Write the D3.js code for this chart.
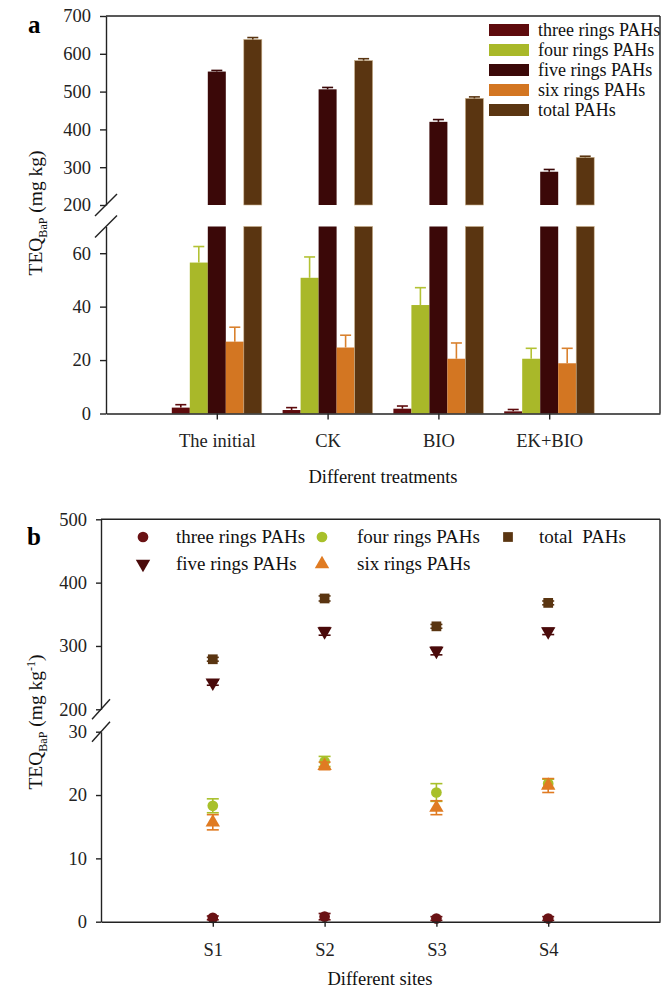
<!DOCTYPE html>
<html><head><meta charset="utf-8">
<script src="https://cdn.jsdelivr.net/npm/d3@7"></script>
<style>html,body{margin:0;padding:0;background:#fff;}svg{display:block;font-family:"Liberation Serif","Times New Roman",serif;}</style>
</head><body>
<script>
// ---------- Panel a data ----------
const catsA = ["The initial", "CK", "BIO", "EK+BIO"];
const seriesA = ["three rings PAHs", "four rings PAHs", "five rings PAHs", "six rings PAHs", "total PAHs"];
const threeA = [2.2, 1.3, 1.8, 0.8];
const threeAErr = [1.1, 0.9, 1.0, 0.7];
const fourA = [56.5, 50.8, 40.6, 20.5];
const fourAErr = [6.0, 7.8, 6.5, 3.9];
const fiveA = [553, 506, 420, 288];
const fiveAErr = [3, 5, 6, 6];
const sixA = [26.9, 24.7, 20.5, 18.8];
const sixAErr = [5.4, 4.6, 5.9, 5.6];
const totalA = [638, 582, 482, 326];
const totalAErr = [5, 5, 4, 3];
const ticksALow = [0, 20, 40, 60];
const ticksAUp = [200, 300, 400, 500, 600, 700];

// ---------- Panel b data ----------
const sitesB = ["S1", "S2", "S3", "S4"];
const seriesB = ["three rings PAHs", "four rings PAHs", "five rings PAHs", "six rings PAHs", "total  PAHs"];
const threeB = [0.6, 0.8, 0.5, 0.5];
const threeBErr = [0.3, 0.5, 0.3, 0.3];
const fourB = [18.3, 25.3, 20.4, 21.8];
const fourBErr = [1.1, 0.8, 1.4, 0.7];
const fiveB = [242, 323, 292, 323];
const fiveBErr = [4, 6, 6, 5];
const sixB = [15.7, 24.6, 18.0, 21.5];
const sixBErr = [1.2, 0.6, 1.1, 1.1];
const totalB = [279, 375, 331, 368];
const totalBErr = [3, 4, 3, 3];
const ticksBLow = [0, 10, 20, 30];
const ticksBUp = [200, 300, 400, 500];

const colA = ["#5e0b0d", "#a9b829", "#3b0808", "#d37622", "#5a3511"];
const errColA = ["#5e0b0d", "#b3c234", "#3b0808", "#d9812e", "#5a3511"];
const colB = ["#6a1214", "#a8c02a", "#4a0a0a", "#e07b22", "#5a3511"];

const svg = d3.select("body").append("svg").attr("width", 661).attr("height", 991);
const axisCol = "#222";

function styleAxis(g) {
  g.selectAll("path.domain").attr("stroke", axisCol).attr("stroke-width", 1.4);
  g.selectAll(".tick line").attr("stroke", axisCol).attr("stroke-width", 1.4);
  g.selectAll(".tick text").attr("fill", "#222").style("font-size", "18.5px").style("font-family", "'Liberation Serif','Times New Roman',serif");
}

// ================= Panel a =================
const xA = d3.scalePoint().domain(["", ...catsA, " "]).range([106, 660]);
const yLowA = d3.scaleLinear().domain([0, 70]).range([413.5, 226.5]);
const yUpA = d3.scaleLinear().domain([200, 700]).range([205, 16]);
const innerA = d3.scaleBand().domain(seriesA).range([-45, 45]);
const valsA = [threeA, fourA, fiveA, sixA, totalA];
const errsA = [threeAErr, fourAErr, fiveAErr, sixAErr, totalAErr];

const gA = svg.append("g");
gA.append("line").attr("x1", 106).attr("x2", 660).attr("y1", yUpA(700)).attr("y2", yUpA(700)).attr("stroke", axisCol).attr("stroke-width", 1.4);
gA.append("line").attr("x1", 660).attr("x2", 660).attr("y1", yUpA(700)).attr("y2", yLowA(0)).attr("stroke", axisCol).attr("stroke-width", 1.4);

const barsA = gA.append("g");
seriesA.forEach((s, si) => {
  catsA.forEach((c, ci) => {
    const v = valsA[si][ci], e = errsA[si][ci];
    const x0 = xA(c) + innerA(s), w = innerA.bandwidth();
    const cx = x0 + w / 2;
    const stroke = si === 4 ? "#c9b08a" : "none";
    const y = v <= 70 ? yLowA : yUpA;
    if (v <= 70) {
      barsA.append("rect").attr("x", x0).attr("y", yLowA(v)).attr("width", w).attr("height", yLowA(0) - yLowA(v)).attr("fill", colA[si]).attr("stroke", stroke).attr("stroke-width", 0.6);
    } else {
      barsA.append("rect").attr("x", x0).attr("y", yLowA(70)).attr("width", w).attr("height", yLowA(0) - yLowA(70)).attr("fill", colA[si]).attr("stroke", stroke).attr("stroke-width", 0.6);
      barsA.append("rect").attr("x", x0).attr("y", yUpA(v)).attr("width", w).attr("height", yUpA(200) - yUpA(v)).attr("fill", colA[si]).attr("stroke", stroke).attr("stroke-width", 0.6);
    }
    barsA.append("line").attr("x1", cx).attr("x2", cx).attr("y1", y(v)).attr("y2", y(v + e)).attr("stroke", errColA[si]).attr("stroke-width", 1.6);
    barsA.append("line").attr("x1", cx - 5.5).attr("x2", cx + 5.5).attr("y1", y(v + e)).attr("y2", y(v + e)).attr("stroke", errColA[si]).attr("stroke-width", 1.6);
  });
});

gA.append("g").attr("transform", "translate(106,0)")
  .call(d3.axisLeft(yLowA).tickValues(ticksALow).tickSize(6).tickSizeOuter(0).tickPadding(9)).call(styleAxis);
gA.append("g").attr("transform", "translate(106,0)")
  .call(d3.axisLeft(yUpA).tickValues(ticksAUp).tickSize(6).tickSizeOuter(0).tickPadding(9)).call(styleAxis);
gA.append("g").attr("transform", `translate(0,${yLowA(0)})`)
  .call(d3.axisBottom(xA).tickValues(catsA).tickSize(6).tickSizeOuter(0).tickPadding(14)).call(styleAxis);

[yUpA(200), yLowA(70)].forEach(y => {
  gA.append("line").attr("x1", 95).attr("x2", 117).attr("y1", y + 11).attr("y2", y - 11).attr("stroke", axisCol).attr("stroke-width", 1.4);
});

// legend a
seriesA.forEach((s, i) => {
  const cy = 30 + i * 20;
  gA.append("rect").attr("x", 489).attr("y", cy - 6).attr("width", 40).attr("height", 12).attr("fill", colA[i]);
  gA.append("text").attr("x", 538).attr("y", cy).attr("dy", "0.33em").style("font-size", "18px").attr("fill", "#111").text(s);
});

gA.append("text").attr("x", 383).attr("y", 483).attr("text-anchor", "middle").style("font-size", "18.5px").attr("fill", "#111").text("Different treatments");
const tA = gA.append("text").attr("transform", "translate(42,213) rotate(-90)").attr("text-anchor", "middle").style("font-size", "19.5px").attr("fill", "#111");
tA.append("tspan").text("TEQ");
tA.append("tspan").attr("dy", 5).style("font-size", "12px").text("BaP");
tA.append("tspan").attr("dy", -5).text(" (mg kg)");
gA.append("text").attr("x", 28).attr("y", 33).style("font-size", "25px").style("font-weight", "bold").text("a");

// ================= Panel b =================
const xB = d3.scalePoint().domain(["", ...sitesB, " "]).range([101, 660]);
const yLowB = d3.scaleLinear().domain([0, 30]).range([921.7, 731.7]);
const yUpB = d3.scaleLinear().domain([200, 500]).range([709.3, 519.3]);
const valsB = [threeB, fourB, fiveB, sixB, totalB];
const errsB = [threeBErr, fourBErr, fiveBErr, sixBErr, totalBErr];
const symB = [
  {type: d3.symbolCircle, size: 90, rot: 0},
  {type: d3.symbolCircle, size: 90, rot: 0},
  {type: d3.symbolTriangle, size: 90, rot: 180},
  {type: d3.symbolTriangle, size: 90, rot: 0},
  {type: d3.symbolSquare, size: 95, rot: 0}
];

const gB = svg.append("g");
gB.append("line").attr("x1", 101).attr("x2", 660).attr("y1", yUpB(500)).attr("y2", yUpB(500)).attr("stroke", axisCol).attr("stroke-width", 1.4);
gB.append("line").attr("x1", 660).attr("x2", 660).attr("y1", yUpB(500)).attr("y2", yLowB(0)).attr("stroke", axisCol).attr("stroke-width", 1.4);

const ptsB = gB.append("g");
seriesB.forEach((s, si) => {
  sitesB.forEach((c, ci) => {
    const v = valsB[si][ci], e = errsB[si][ci];
    const y = v <= 30 ? yLowB : yUpB;
    const cx = xB(c);
    const lo = y(v - e), hi = y(v + e);
    ptsB.append("line").attr("x1", cx).attr("x2", cx).attr("y1", lo).attr("y2", hi).attr("stroke", colB[si]).attr("stroke-width", 1.6);
    [lo, hi].forEach(yy => ptsB.append("line").attr("x1", cx - 6).attr("x2", cx + 6).attr("y1", yy).attr("y2", yy).attr("stroke", colB[si]).attr("stroke-width", 1.6));
    ptsB.append("path").attr("d", d3.symbol().type(symB[si].type).size(symB[si].size)())
      .attr("transform", `translate(${cx},${y(v)}) rotate(${symB[si].rot})`).attr("fill", colB[si]);
  });
});

gB.append("g").attr("transform", "translate(101,0)")
  .call(d3.axisLeft(yLowB).tickValues(ticksBLow).tickSize(5).tickSizeOuter(0).tickPadding(9)).call(styleAxis);
gB.append("g").attr("transform", "translate(101,0)")
  .call(d3.axisLeft(yUpB).tickValues(ticksBUp).tickSize(5).tickSizeOuter(0).tickPadding(9)).call(styleAxis);
gB.append("g").attr("transform", `translate(0,${yLowB(0)})`)
  .call(d3.axisBottom(xB).tickValues(sitesB).tickSize(5).tickSizeOuter(0).tickPadding(16)).call(styleAxis);

[yUpB(200), yLowB(30)].forEach(y => {
  gB.append("line").attr("x1", 92).attr("x2", 110).attr("y1", y + 10).attr("y2", y - 10).attr("stroke", axisCol).attr("stroke-width", 1.4);
});

// legend b
const legB = [
  {i: 0, x: 143, y: 537, tx: 176},
  {i: 2, x: 143, y: 564, tx: 176},
  {i: 1, x: 322, y: 537, tx: 357},
  {i: 3, x: 322, y: 564, tx: 357},
  {i: 4, x: 508, y: 537, tx: 539}
];
legB.forEach(d => {
  gB.append("path").attr("d", d3.symbol().type(symB[d.i].type).size(symB[d.i].size)())
    .attr("transform", `translate(${d.x},${d.y}) rotate(${symB[d.i].rot})`).attr("fill", colB[d.i]);
  gB.append("text").attr("x", d.tx).attr("y", d.y).attr("dy", "0.33em").style("font-size", "19px").attr("fill", "#111").style("white-space", "pre").attr("xml:space", "preserve").text(seriesB[d.i]);
});

gB.append("text").attr("x", 380).attr("y", 985).attr("text-anchor", "middle").style("font-size", "18.5px").attr("fill", "#111").text("Different sites");
const tB = gB.append("text").attr("transform", "translate(42,722) rotate(-90)").attr("text-anchor", "middle").style("font-size", "19.5px").attr("fill", "#111");
tB.append("tspan").text("TEQ");
tB.append("tspan").attr("dy", 5).style("font-size", "12px").text("BaP");
tB.append("tspan").attr("dy", -5).text(" (mg kg");
tB.append("tspan").attr("dy", -7).style("font-size", "12px").text("-1");
tB.append("tspan").attr("dy", 7).text(")");
gB.append("text").attr("x", 27).attr("y", 545).style("font-size", "25px").style("font-weight", "bold").text("b");
</script>
</body></html>
